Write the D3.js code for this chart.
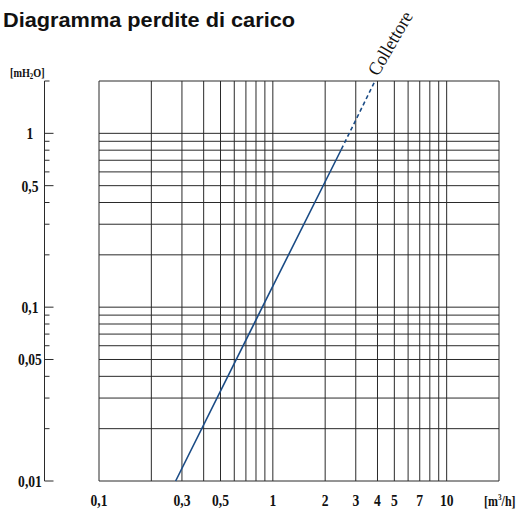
<!DOCTYPE html>
<html>
<head>
<meta charset="utf-8">
<script src="https://cdn.jsdelivr.net/npm/d3@7"></script>
<style>
  body { margin: 0; background: #fff; }
  svg { display: block; }
</style>
</head>
<body>
<svg id="chart"></svg>
<script>
// flow rate [m3/h] grid lines and labels
var xGrid = [0.1, 0.2, 0.3, 0.4, 0.5, 0.6, 0.7, 0.8, 0.9, 1, 2, 3, 4, 5, 6, 7, 8, 9, 10, 20];
var xLabels = [0.1, 0.3, 0.5, 1, 2, 3, 4, 5, 7, 10];
// pressure drop [mH2O] grid lines and labels
var yGrid = [0.01, 0.02, 0.03, 0.04, 0.05, 0.06, 0.07, 0.08, 0.09, 0.1,
             0.2, 0.3, 0.4, 0.5, 0.6, 0.7, 0.8, 0.9, 1, 2];
var yLabels = [0.01, 0.05, 0.1, 0.5, 1];
// "Collettore" curve
var solidQ = [0.276, 0.87, 2.48];
var solidDp = [0.01, 0.1, 0.81];
var dashQ = [2.48, 3.87];
var dashDp = [0.81, 2];

var W = 517, H = 511;
var svg = d3.select("#chart").attr("width", W).attr("height", H);

var x = d3.scaleLog().domain([0.1, 20]).range([99, 499]);
var y = d3.scaleLog().domain([0.01, 2]).range([481, 81]);
var fmt = function(v){ return String(v).replace(".", ","); };
var gridColor = "#2a2a2a";
var serif = "'Liberation Serif', 'Times New Roman', serif";
var squeeze = 0.8;   // narrow look of the serif labels

// title
svg.append("text")
  .attr("x", 3).attr("y", 27)
  .attr("font-family", "'Liberation Sans', Arial, sans-serif")
  .attr("font-weight", "bold")
  .attr("font-size", 20)
  .attr("textLength", 292).attr("lengthAdjust", "spacingAndGlyphs")
  .attr("fill", "#111")
  .text("Diagramma perdite di carico");

// grid
var grid = svg.append("g");
grid.selectAll("line.v").data(xGrid).enter().append("line")
  .attr("class", "v")
  .attr("x1", function(d){ return x(d); }).attr("x2", function(d){ return x(d); })
  .attr("y1", y(2)).attr("y2", y(0.01))
  .attr("stroke", gridColor).attr("stroke-width", 1);
grid.selectAll("line.h").data(yGrid).enter().append("line")
  .attr("class", "h")
  .attr("y1", function(d){ return y(d); }).attr("y2", function(d){ return y(d); })
  .attr("x1", x(0.1)).attr("x2", x(20))
  .attr("stroke", gridColor).attr("stroke-width", 1);

// separate y axis on the left
var axisX = 44.5;
var yAxis = svg.append("g");
yAxis.append("line")
  .attr("x1", axisX).attr("x2", axisX)
  .attr("y1", y(2)).attr("y2", y(0.01))
  .attr("stroke", gridColor);
yAxis.selectAll("line.t").data(yGrid).enter().append("line")
  .attr("class", "t")
  .attr("x1", axisX)
  .attr("x2", function(d){ return yLabels.indexOf(d) >= 0 ? axisX + 9 : axisX + 5; })
  .attr("y1", function(d){ return y(d); }).attr("y2", function(d){ return y(d); })
  .attr("stroke", gridColor);
yAxis.selectAll("text").data(yLabels).enter().append("text")
  .attr("transform", function(d){ return "translate(30," + (y(d) + 6) + ") scale(" + squeeze + ",1)"; })
  .attr("text-anchor", "middle")
  .attr("font-family", serif).attr("font-weight", "bold").attr("font-size", 17)
  .attr("fill", "#111")
  .text(fmt);

// y unit
var yUnit = svg.append("text")
  .attr("transform", "translate(10,77) scale(0.85,1)")
  .attr("font-family", serif).attr("font-weight", "bold").attr("font-size", 12)
  .attr("fill", "#111");
yUnit.append("tspan").text("[mH");
yUnit.append("tspan").attr("font-size", 8).attr("dy", 2).text("2");
yUnit.append("tspan").attr("dy", -2).text("O]");

// x labels
svg.append("g").selectAll("text").data(xLabels).enter().append("text")
  .attr("transform", function(d){ return "translate(" + x(d) + ",506) scale(" + squeeze + ",1)"; })
  .attr("text-anchor", "middle")
  .attr("font-family", serif).attr("font-weight", "bold").attr("font-size", 17)
  .attr("fill", "#111")
  .text(fmt);

// x unit
var xUnit = svg.append("text")
  .attr("transform", "translate(484,506) scale(" + squeeze + ",1)")
  .attr("font-family", serif).attr("font-weight", "bold").attr("font-size", 15)
  .attr("fill", "#111");
xUnit.append("tspan").text("[m");
xUnit.append("tspan").attr("font-size", 9).attr("dy", -6).text("3");
xUnit.append("tspan").attr("dy", 6).text("/h]");

// curve
var line = d3.line()
  .x(function(d){ return x(d[0]); })
  .y(function(d){ return y(d[1]); });
var blue = "#1b4c86";
svg.append("path")
  .datum(d3.zip(solidQ, solidDp))
  .attr("d", line)
  .attr("fill", "none").attr("stroke", blue).attr("stroke-width", 1.6);
svg.append("path")
  .datum(d3.zip(dashQ, dashDp))
  .attr("d", line)
  .attr("fill", "none").attr("stroke", blue).attr("stroke-width", 1.6)
  .attr("stroke-dasharray", "4,3");

// curve label
svg.append("text")
  .attr("transform", "translate(378,77) rotate(-60) scale(0.93,1)")
  .attr("font-family", serif).attr("font-size", 19)
  .attr("fill", "#111")
  .text("Collettore");
</script>
</body>
</html>
